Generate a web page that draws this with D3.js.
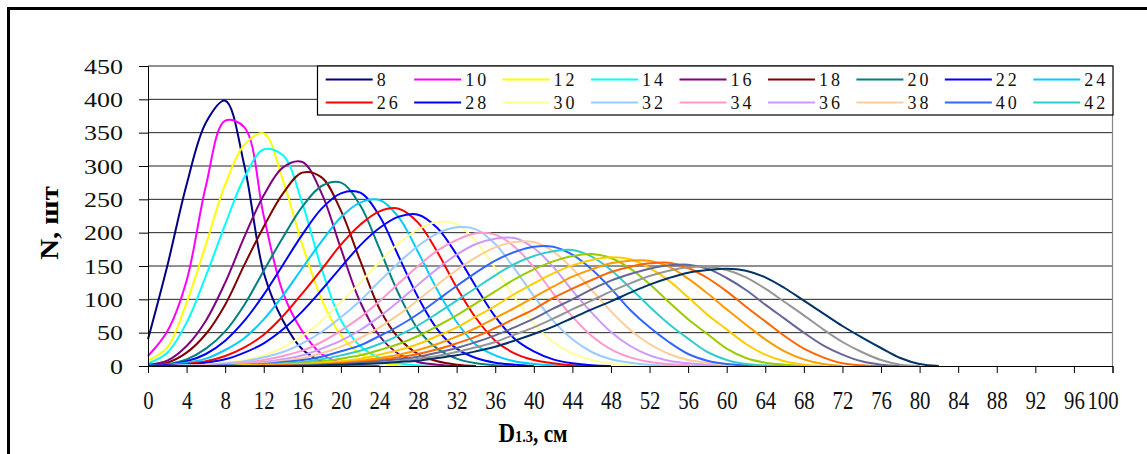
<!DOCTYPE html>
<html>
<head>
<meta charset="utf-8">
<script src="https://cdn.jsdelivr.net/npm/d3@7"></script>
<style>
  html, body { margin: 0; padding: 0; background: #fff; }
  svg { display: block; }
  text { font-family: "Liberation Serif", "Times New Roman", serif; }
</style>
</head>
<body>
<svg id="chart" width="1147" height="454"></svg>
<script>
// ---- data ----
const seriesNames = [8,10,12,14,16,18,20,22,24,26,28,30,32,34,36,38,40,42,44,46,48,50,52,54,56];
const seriesColors = ["#000080","#FF00FF","#FFFF00","#00FFFF","#800080","#800000","#008080","#0000FF","#00CCFF","#FF0000","#0000FF","#FFFF99","#99CCFF","#FF99CC","#CC99FF","#FFCC99","#3366FF","#33CCCC","#99CC00","#FFCC00","#FF9900","#FF6600","#666699","#969696","#003366"];
// diameter classes (cm) the values below refer to
const diameters = [0,2,4,6,8,10,12,14,16,18,20,22,24,26,28,30,32,34,36,38,40,42,44,46,48,50,52,54,56,58,60,62,64,66,68,70,72,74,76,78,80,82,84];
const yTicks = [0,50,100,150,200,250,300,350,400,450];
const xTicks = [0,4,8,12,16,20,24,28,32,36,40,44,48,52,56,60,64,68,72,76,80,84,88,92,96,100];
const legendCount = 18;

const n8  = [40,150,272,365,398,300,140,68,25,7,1,0];
const n10 = [15,52,128,270,368,358,225,110,52,18,5,1,0];
const n12 = [8,28,95,182,272,332,349,278,182,100,46,18,6,1,0];
const n14 = [4,20,65,135,212,283,325,316,244,146,69,30,12,4,1,0];
const n16 = [2,8,30,68,125,194,256,298,306,259,176,96,45,18,6,2,0];
const n18 = [1,5,20,48,92,152,209,259,290,283,233,158,86,42,18,7,2,0];
const n20 = [1,3,10,26,52,92,143,193,239,270,275,241,176,108,55,26,11,4,1,0];
const n22 = [1,2,7,18,38,68,107,152,197,236,259,260,225,164,103,55,26,12,5,2,0];
const n24 = [1,2,5,11,24,42,70,106,147,187,223,245,249,223,171,114,66,32,16,7,3,1,0];
const n26 = [0,1,3,7,15,28,47,75,109,145,182,212,232,236,215,171,118,72,38,19,9,4,1,0];
const n28 = [0,1,2,5,10,20,34,55,82,114,148,181,207,224,227,207,167,119,74,41,22,10,4,1,0];
const n30 = [0,0,1,2,5,9,16,28,45,68,96,125,156,184,205,216,213,187,147,103,64,36,19,9,4,1,0];
const n32 = [0,0,1,2,4,7,13,21,34,51,73,98,127,155,180,199,208,205,183,146,105,68,40,21,10,5,2,1,0];
const n34 = [0,0,0,1,3,5,9,15,23,36,53,73,97,124,150,173,189,199,197,179,148,109,74,45,25,13,6,3,1,0];
const n36 = [0,0,0,1,2,3,6,10,16,26,38,54,74,97,122,146,167,183,191,192,177,149,113,80,51,30,16,8,4,2,1,0];
const n38 = [0,0,0,1,1,3,4,8,12,19,29,42,58,77,99,122,144,163,178,186,186,172,146,114,82,54,33,18,9,5,2,1,0];
const n40 = [0,0,0,0,1,2,3,6,9,14,22,31,45,60,78,99,120,140,158,171,179,179,167,145,116,84,58,36,18,8,3,1,0];
const n42 = [0,0,0,0,0,1,2,4,6,10,16,23,33,46,61,79,98,117,136,153,165,172,174,164,144,117,89,63,41,21,9,3,1,0];
const n44 = [0,0,0,0,0,1,2,3,4,7,11,16,24,33,45,60,76,94,112,130,145,157,165,168,162,146,123,96,70,48,26,12,5,2,0];
const n46 = [0,0,0,0,0,1,1,2,3,5,7,11,17,24,33,45,58,74,90,108,124,139,151,159,163,160,147,128,103,77,55,33,17,7,2,0];
const n48 = [0,0,0,0,0,0,1,1,2,3,5,8,12,17,24,33,44,57,72,87,103,119,134,145,154,158,158,149,131,109,85,62,40,22,10,3,0];
const n50 = [0,0,0,0,0,0,0,1,1,2,4,6,9,13,18,25,34,44,57,71,85,102,116,129,141,149,154,155,147,132,112,89,67,45,26,13,4,1,0];
const n52 = [0,0,0,0,0,0,0,0,1,2,3,5,7,10,14,20,27,36,46,58,71,86,100,115,128,138,146,151,152,146,132,114,92,71,50,31,17,7,2,0];
const n54 = [0,0,0,0,0,0,0,0,0,1,2,3,5,7,11,15,21,28,36,47,58,71,85,98,112,124,135,143,148,149,144,133,116,96,76,55,36,21,9,2,0];
const n56 = [0,0,0,0,0,0,0,0,0,1,2,3,4,6,8,12,16,22,29,38,48,59,72,85,97,110,122,132,140,144,146,143,133,117,98,79,60,43,27,12,3,0];

const seriesValues = [n8,n10,n12,n14,n16,n18,n20,n22,n24,n26,n28,n30,n32,n34,n36,n38,n40,n42,n44,n46,n48,n50,n52,n54,n56];

// ---- drawing ----
const svg = d3.select("#chart");
const x = d3.scaleLinear().domain([0, 100]).range([148, 1112.5]);
const y = d3.scaleLinear().domain([0, 450]).range([366, 66]);

// outer frame
svg.append("path").attr("d", "M8.5,454 V8.5 H1147").attr("fill", "none").attr("stroke", "#000").attr("stroke-width", 3);

// gridlines
svg.append("g").selectAll("line").data(yTicks.filter(d => d > 0)).join("line")
  .attr("x1", x(0)).attr("x2", x(100))
  .attr("y1", d => y(d)).attr("y2", d => y(d))
  .attr("stroke", "#222").attr("stroke-width", 1);

// plot area right border
svg.append("line").attr("x1", x(100)).attr("x2", x(100)).attr("y1", y(450)).attr("y2", y(0))
  .attr("stroke", "#888").attr("stroke-width", 1.2);

// series
const line = d3.line()
  .x((d, i) => x(diameters[i]))
  .y(d => y(d))
  .curve(d3.curveCatmullRom.alpha(0.5));

svg.append("g").selectAll("path").data(seriesValues).join("path")
  .attr("d", d => line(d))
  .attr("fill", "none")
  .attr("stroke", (d, i) => seriesColors[i])
  .attr("stroke-width", 2)
  .attr("stroke-linejoin", "round");

// axes
const yAxis = d3.axisLeft(y).tickValues(yTicks).tickSize(9).tickPadding(0).tickFormat(d3.format("d"));
const gy = svg.append("g").attr("transform", `translate(${x(0)},0)`).call(yAxis);
gy.select(".domain").attr("stroke", "#000");
gy.selectAll(".tick line").attr("stroke", "#000");
gy.selectAll(".tick text").remove();
gy.selectAll(".tick").append("text")
  .attr("transform", "translate(-25,0) scale(1.3,1)")
  .attr("text-anchor", "end")
  .attr("dy", "0.35em")
  .attr("fill", "#111")
  .style("font-size", "20px")
  .text(d => d);

const xAxis = d3.axisBottom(x).tickValues(xTicks).tickSize(7).tickPadding(0).tickFormat(d3.format("d"));
const gx = svg.append("g").attr("transform", `translate(0,${y(0)})`).call(xAxis);
gx.select(".domain").attr("stroke", "#000");
gx.selectAll(".tick line").attr("stroke", "#000");
gx.selectAll(".tick text").remove();
gx.selectAll(".tick").append("text")
  .attr("transform", (d, i) => i === xTicks.length - 1 ? "translate(-10,43) scale(0.8,1)" : "translate(0,43) scale(0.8,1)")
  .attr("text-anchor", "middle")
  .attr("fill", "#111")
  .style("font-size", "26px")
  .text(d => d);

// axis titles
svg.append("text")
  .attr("transform", "translate(58,223) rotate(-90) scale(1.15,1)")
  .attr("text-anchor", "middle")
  .style("font-size", "25px").style("font-weight", "bold")
  .text("N, шт");

const xt = svg.append("text")
  .attr("transform", "translate(533,442) scale(0.85,1)")
  .attr("text-anchor", "middle")
  .style("font-weight", "bold");
xt.append("tspan").style("font-size", "27px").text("D");
xt.append("tspan").style("font-size", "17px").text("1.3");
xt.append("tspan").style("font-size", "25px").text(", см");

// legend
const lg = svg.append("g");
lg.append("rect").attr("x", 317.5).attr("y", 66).attr("width", 795.5).attr("height", 49)
  .attr("fill", "#fff").attr("stroke", "#000").attr("stroke-width", 1.2);
const legendItems = seriesNames.slice(0, legendCount).map((name, i) => ({ name, color: seriesColors[i], i }));
const li = lg.selectAll("g.item").data(legendItems).join("g").attr("class", "item")
  .attr("transform", d => `translate(${325.7 + (d.i % 9) * 88.45},${d.i < 9 ? 79.5 : 102.5})`);
li.append("line").attr("x1", 0).attr("x2", 47).attr("y1", 0).attr("y2", 0)
  .attr("stroke", d => d.color).attr("stroke-width", 2);
li.append("text").attr("x", 51).attr("dy", "0.35em")
  .style("font-size", "18px").style("letter-spacing", "3px").attr("fill", "#111")
  .text(d => d.name);
</script>
</body>
</html>
